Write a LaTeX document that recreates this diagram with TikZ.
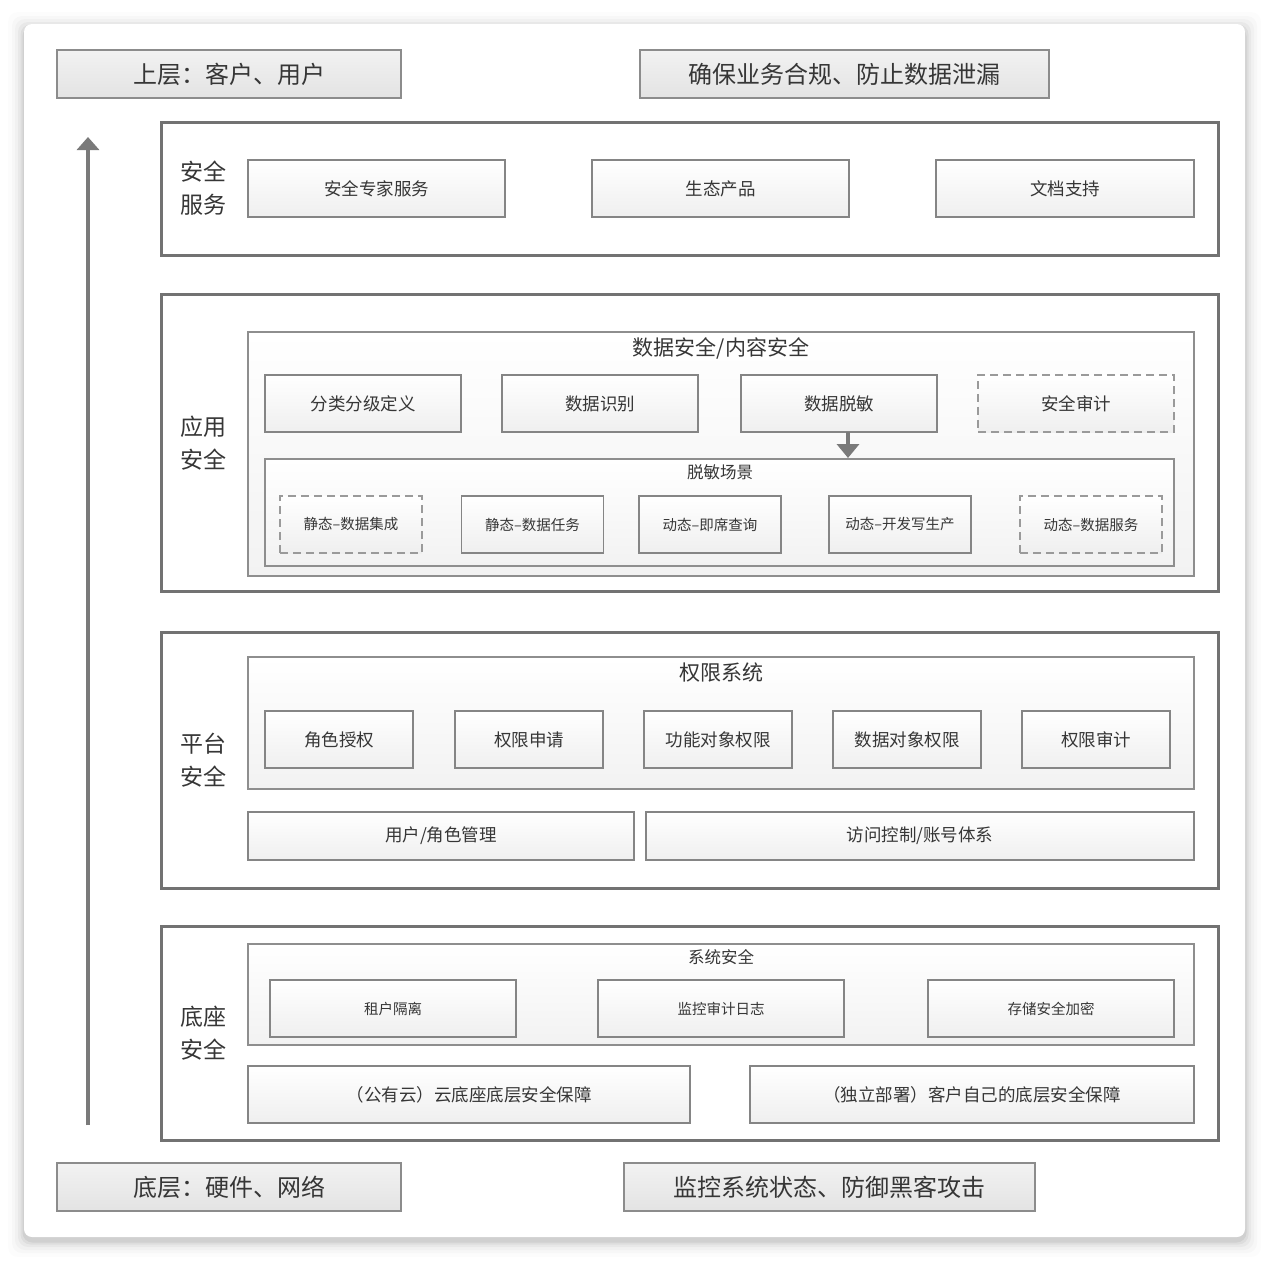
\documentclass[tikz,border=0pt]{standalone}
\usepackage{fontspec}
\setmainfont{Noto Sans CJK SC}
\usetikzlibrary{arrows.meta}
\definecolor{txt}{HTML}{363636}
\definecolor{topc}{HTML}{8C8C8C}
\definecolor{topA}{HTML}{F2F2F2}
\definecolor{topB}{HTML}{E3E3E3}
\definecolor{layc}{HTML}{727272}
\definecolor{contc}{HTML}{8E8E8E}
\definecolor{contB}{HTML}{F2F2F2}
\definecolor{bordc}{HTML}{858585}
\definecolor{boxB}{HTML}{EFEFEF}
\definecolor{dashc}{HTML}{9A9A9A}
\definecolor{arrc}{HTML}{7A7A7A}
\begin{document}
\begin{tikzpicture}[x=1bp,y=-1bp,
  base/.style={draw=bordc, line width=1.2bp, inner sep=0pt, outer sep=0pt, text=txt, align=center},
  sz/.style 2 args={minimum width=#1bp, minimum height=#2bp},
  topl/.style={base, draw=topc, line width=1.5bp, top color=topA, bottom color=topB, font=\fontsize{24bp}{28bp}\selectfont},
  layer/.style={draw=layc, line width=3bp, fill=white, inner sep=0pt, outer sep=0pt},
  cont/.style={base, draw=contc, top color=white, bottom color=contB},
  box/.style={base, top color=white, bottom color=boxB},
  dbox/.style={box, draw=dashc, dash pattern=on 8bp off 5bp},
  lab/.style={text=txt, align=center, font=\fontsize{23bp}{33bp}\selectfont},
  ttl/.style={text=txt, inner sep=0pt},
  fa/.style={font=\fontsize{21bp}{24bp}\selectfont},
  fb/.style={font=\fontsize{17.5bp}{20bp}\selectfont},
  fc/.style={font=\fontsize{16.5bp}{19bp}\selectfont},
  fd/.style={font=\fontsize{14.5bp}{17bp}\selectfont},
  bigarrow/.style={draw=arrc, line width=3.5bp, -{Triangle[width=22bp,length=13bp]}},
  smallarrow/.style={draw=arrc, line width=3.5bp, -{Triangle[width=22bp,length=14bp]}}
]
\useasboundingbox (0,0) rectangle (1269,1261);
\fill[white] (0,0) rectangle (1269,1261);
% card shadow
\foreach \d/\o in {16/0.012,12/0.018,9/0.025,6/0.035,3.5/0.045,1.5/0.06}{
  \fill[black, opacity=\o, rounded corners=10bp] (24-\d,24-\d+4) rectangle (1245+\d,1237+\d+4);
}
\fill[white, rounded corners=8bp] (24,24) rectangle (1245,1237);

% top and bottom labels
\node[topl, sz={344}{48}] (t1) at (229,74) {上层：客户、用户};
\node[topl, sz={409}{48}] (t2) at (844.5,74) {确保业务合规、防止数据泄漏};
\node[topl, sz={344}{48}] (b1) at (229,1187) {底层：硬件、网络};
\node[topl, sz={411}{48}] (b2) at (829.5,1187) {监控系统状态、防御黑客攻击};

% big arrow
\coordinate (a0) at (88,1125);
\coordinate (a1) at (88,137);
\draw[bigarrow] (a0) -- (a1);

% layer frames
\node[layer, sz={1056}{133}] (L1) at (690,188.5) {};
\node[layer, sz={1056}{297}] (L2) at (690,442.5) {};
\node[layer, sz={1056}{256}] (L3) at (690,760) {};
\node[layer, sz={1056}{214}] (L4) at (690,1033) {};

\node[lab] (l1) at (203,188.5) {安全\\服务};
\node[lab] (l2) at (203,443) {应用\\安全};
\node[lab] (l3) at (203,760) {平台\\安全};
\node[lab] (l4) at (203,1033) {底座\\安全};

% layer 1
\node[box, fb, sz={257}{57}] (s1) at (376.5,188.5) {安全专家服务};
\node[box, fb, sz={257}{57}] (s2) at (720.5,188.5) {生态产品};
\node[box, fb, sz={258}{57}] (s3) at (1065,188.5) {文档支持};

% layer 2
\node[cont, sz={946}{244}] (C2) at (721,454) {};
\node[ttl, fa] (C2t) at (721,348) {数据安全/内容安全};
\node[box, fb, sz={196}{57}] (d1) at (363,403.5) {分类分级定义};
\node[box, fb, sz={196}{57}] (d2) at (600,403.5) {数据识别};
\node[box, fb, sz={196}{57}] (d3) at (839,403.5) {数据脱敏};
\node[dbox, fb, sz={196}{57}] (d4) at (1076,403.5) {安全审计};
\node[cont, sz={909}{107}] (S) at (719.5,512.5) {};
\node[ttl, fc] (St) at (720,472) {脱敏场景};
\coordinate (ar0) at (848,432);
\coordinate (ar1) at (848,458);
\draw[smallarrow] (ar0) -- (ar1);
\node[dbox, fd, sz={142}{57}] (e1) at (351,524.5) {静态–数据集成};
\node[box, fd, sz={142}{57}] (e2) at (532.5,524.5) {静态–数据任务};
\node[box, fd, sz={142}{57}] (e3) at (710,524.5) {动态–即席查询};
\node[box, fd, sz={142}{57}] (e4) at (900,524.5) {动态–开发写生产};
\node[dbox, fd, sz={142}{57}] (e5) at (1091,524.5) {动态–数据服务};

% layer 3
\node[cont, sz={946}{132}] (C3) at (721,723) {};
\node[ttl, fa] (C3t) at (721,673) {权限系统};
\node[box, fb, sz={148}{57}] (p1) at (339,739.5) {角色授权};
\node[box, fb, sz={148}{57}] (p2) at (529,739.5) {权限申请};
\node[box, fb, sz={148}{57}] (p3) at (718,739.5) {功能对象权限};
\node[box, fb, sz={148}{57}] (p4) at (907,739.5) {数据对象权限};
\node[box, fb, sz={148}{57}] (p5) at (1096,739.5) {权限审计};
\node[box, fb, sz={386}{48}] (q1) at (441,836) {用户/角色管理};
\node[box, fb, sz={548}{48}] (q2) at (920,836) {访问控制/账号体系};

% layer 4
\node[cont, sz={946}{101}] (C4) at (721,994.5) {};
\node[ttl, fc] (C4t) at (721,957) {系统安全};
\node[box, fd, sz={246}{57}] (g1) at (393,1008.5) {租户隔离};
\node[box, fd, sz={246}{57}] (g2) at (721,1008.5) {监控审计日志};
\node[box, fd, sz={246}{57}] (g3) at (1051,1008.5) {存储安全加密};
\node[box, fb, sz={442}{57}] (h1) at (469,1094.5) {（公有云）云底座底层安全保障};
\node[box, fb, sz={444}{57}] (h2) at (972,1094.5) {（独立部署）客户自己的底层安全保障};
\end{tikzpicture}
\end{document}
